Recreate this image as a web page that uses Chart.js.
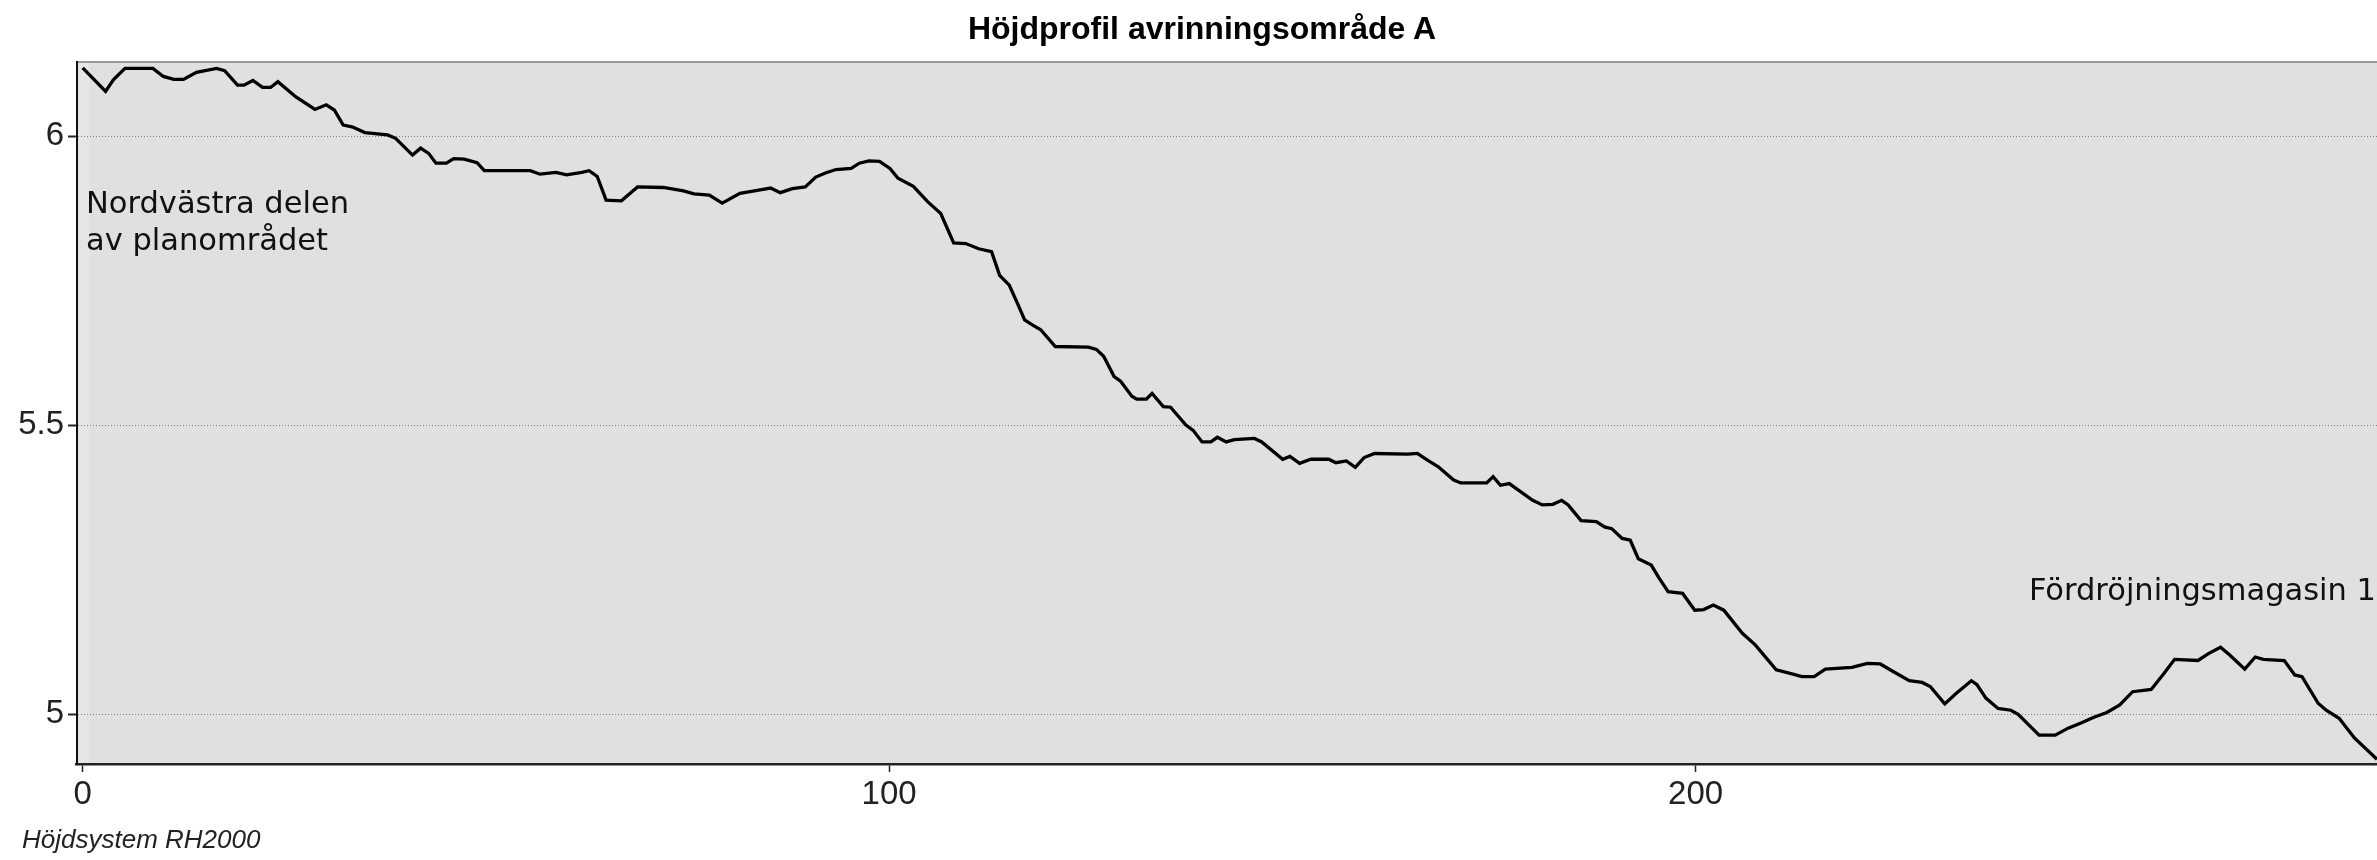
<!DOCTYPE html>
<html><head><meta charset="utf-8">
<script src="https://cdn.jsdelivr.net/npm/chart.js@4"></script>
<style>
html,body{margin:0;padding:0;background:#fff;}
#wrap{position:relative;width:2377px;height:860px;overflow:hidden;}
canvas{position:absolute;left:0;top:0;}
.ann{position:absolute;font-family:"DejaVu Sans",Verdana,sans-serif;font-size:30.5px;line-height:37px;color:#111;white-space:nowrap;}
.foot{position:absolute;left:22px;top:824px;font-family:"Liberation Sans",Arial,sans-serif;font-style:italic;font-size:26px;line-height:30px;color:#222;white-space:nowrap;}
.title{position:absolute;left:27px;width:2350px;top:9px;text-align:center;font-family:"Liberation Sans",Arial,sans-serif;font-weight:bold;font-size:32px;line-height:38px;color:#000;white-space:nowrap;}
</style></head><body>
<div id="wrap">
<canvas id="c" width="2377" height="860"></canvas>
<div class="title" id="title"></div>
<div class="ann" style="left:86px;top:184px;">Nordvästra delen<br>av planområdet</div>
<div class="ann" style="right:1px;top:570.5px;">Fördröjningsmagasin 1</div>
<div class="foot" id="foot"></div>
</div>
<script>
const distance = [0,2.84,3.8,5.24,8.7,10.0,11.3,12.5,14.1,16.6,17.6,19.2,20.0,21.1,22.3,23.3,24.2,26.4,28.8,30.2,31.2,32.3,33.4,35.0,37.8,38.8,40.9,41.9,42.9,43.8,45.1,46.0,47.3,48.9,49.8,55.5,56.7,58.7,60.0,61.9,62.8,63.8,64.9,66.8,68.8,72.0,74.5,75.8,77.7,79.3,81.5,84.0,85.3,86.5,88.0,89.6,90.9,92.1,93.4,95.3,96.3,97.5,98.8,100.1,101.1,103.0,104.8,106.4,108.0,109.5,111.1,112.7,113.7,114.9,115.9,116.8,117.8,118.8,120.6,124.7,125.7,126.6,127.9,128.7,130.1,130.7,131.9,132.6,134.0,134.9,136.8,137.7,138.8,139.9,140.7,141.8,142.8,145.3,146.2,148.8,149.7,150.9,152.3,154.5,155.4,156.7,157.8,158.9,160.2,164.3,165.5,166.8,168.1,170.0,170.9,174.1,174.9,175.8,176.9,177.6,179.8,181.0,182.3,183.4,184.2,185.8,187.7,188.7,189.6,190.9,191.9,192.9,194.5,195.5,196.6,198.4,199.9,201.0,202.2,203.5,205.8,207.4,210.0,211.6,213.2,214.7,216.1,219.4,221.3,222.9,224.5,226.5,228.1,229.1,230.9,232.3,234.2,234.9,236.0,237.5,239.1,240.0,242.6,244.6,246.2,247.8,249.4,251.0,252.6,254.2,256.5,258.1,259.4,262.3,263.6,265.1,266.2,268.1,269.4,270.4,273.0,274.3,275.2,277.2,278.2,279.8,281.7,284.5];
const elevation = [6.118,6.077,6.097,6.117,6.117,6.103,6.098,6.098,6.110,6.117,6.113,6.088,6.088,6.096,6.084,6.084,6.094,6.068,6.046,6.054,6.045,6.019,6.016,6.006,6.002,5.996,5.967,5.979,5.970,5.953,5.953,5.961,5.960,5.954,5.940,5.940,5.934,5.937,5.933,5.937,5.940,5.930,5.889,5.888,5.912,5.911,5.905,5.900,5.898,5.884,5.901,5.907,5.910,5.902,5.909,5.912,5.929,5.936,5.942,5.944,5.953,5.957,5.956,5.944,5.927,5.913,5.886,5.866,5.815,5.814,5.805,5.800,5.759,5.742,5.711,5.682,5.673,5.665,5.636,5.635,5.631,5.619,5.584,5.576,5.550,5.545,5.545,5.555,5.532,5.531,5.500,5.491,5.471,5.471,5.479,5.471,5.475,5.477,5.471,5.441,5.446,5.434,5.441,5.441,5.435,5.438,5.427,5.444,5.451,5.450,5.451,5.439,5.428,5.405,5.400,5.400,5.411,5.396,5.399,5.392,5.370,5.362,5.363,5.370,5.362,5.335,5.333,5.324,5.321,5.304,5.301,5.269,5.258,5.235,5.212,5.209,5.180,5.181,5.189,5.180,5.140,5.120,5.077,5.071,5.065,5.065,5.078,5.081,5.088,5.087,5.074,5.058,5.055,5.048,5.018,5.036,5.058,5.051,5.028,5.010,5.007,5.000,4.964,4.964,4.976,4.985,4.995,5.003,5.016,5.039,5.043,5.071,5.095,5.093,5.105,5.116,5.103,5.078,5.099,5.095,5.093,5.068,5.065,5.019,5.007,4.993,4.959,4.922];
const xTicks = [0, 100, 200];
const xTickLabels = ['0', '100', '200'];
const yTicks = [5, 5.5, 6];
const yTickLabels = ['5', '5.5', '6'];
const titleText = 'Höjdprofil avrinningsområde A';
const footText = 'Höjdsystem RH2000';

document.getElementById('title').textContent = titleText;
document.getElementById('foot').textContent = footText;

const sans = '"Liberation Sans", Arial, sans-serif';

const plotBg = {
  id: 'plotBg',
  beforeDraw(chart) {
    const {ctx, chartArea: a} = chart;
    ctx.save();
    ctx.fillStyle = '#e0e0e0';
    ctx.fillRect(a.left, a.top, a.right - a.left, a.bottom - a.top);
    ctx.fillStyle = '#e5e5e5';
    ctx.fillRect(a.left + 2, a.top, 11, a.bottom - a.top);
    ctx.strokeStyle = '#9a9a9a';
    ctx.lineWidth = 2;
    ctx.beginPath();
    ctx.moveTo(a.left, a.top);
    ctx.lineTo(a.right, a.top);
    ctx.stroke();
    ctx.restore();
  }
};

new Chart(document.getElementById('c'), {
  type: 'line',
  data: {
    datasets: [{
      data: distance.map((d, i) => ({x: d, y: elevation[i]})),
      borderColor: '#000',
      borderWidth: 3.3,
      pointRadius: 0,
      tension: 0,
      fill: false
    }]
  },
  options: {
    responsive: false,
    animation: false,
    events: [],
    layout: {padding: {left: 10, right: 0, top: 62, bottom: 36}},
    plugins: {
      legend: {display: false},
      tooltip: {enabled: false},
      title: {display: false}
    },
    scales: {
      x: {
        type: 'linear', min: -0.77, max: 284.5,
        afterBuildTicks: s => { s.ticks = xTicks.map(v => ({value: v})); },
        afterFit: s => { s.height = 60; },
        ticks: {
          callback: (v, i) => xTickLabels[i],
          font: {family: sans, size: 33}, color: '#222', padding: 3,
          maxRotation: 0, autoSkip: false
        },
        grid: {display: true, drawOnChartArea: false, drawTicks: true, tickLength: 8, tickColor: '#222', tickWidth: 1.5},
        border: {display: true, color: '#222', width: 2.5}
      },
      y: {
        type: 'linear', min: 4.914, max: 6.128,
        afterBuildTicks: s => { s.ticks = yTicks.map(v => ({value: v})); },
        afterFit: s => { s.width = 66.5; },
        ticks: {
          callback: (v, i) => yTickLabels[i],
          font: {family: sans, size: 33}, color: '#222', padding: 4
        },
        grid: {color: '#808080', lineWidth: 1, drawTicks: true, tickLength: 8.5, tickColor: '#222', tickWidth: 2},
        border: {display: true, color: '#111', width: 2, dash: [1, 2]}
      }
    }
  },
  plugins: [plotBg]
});
</script>
</body></html>
